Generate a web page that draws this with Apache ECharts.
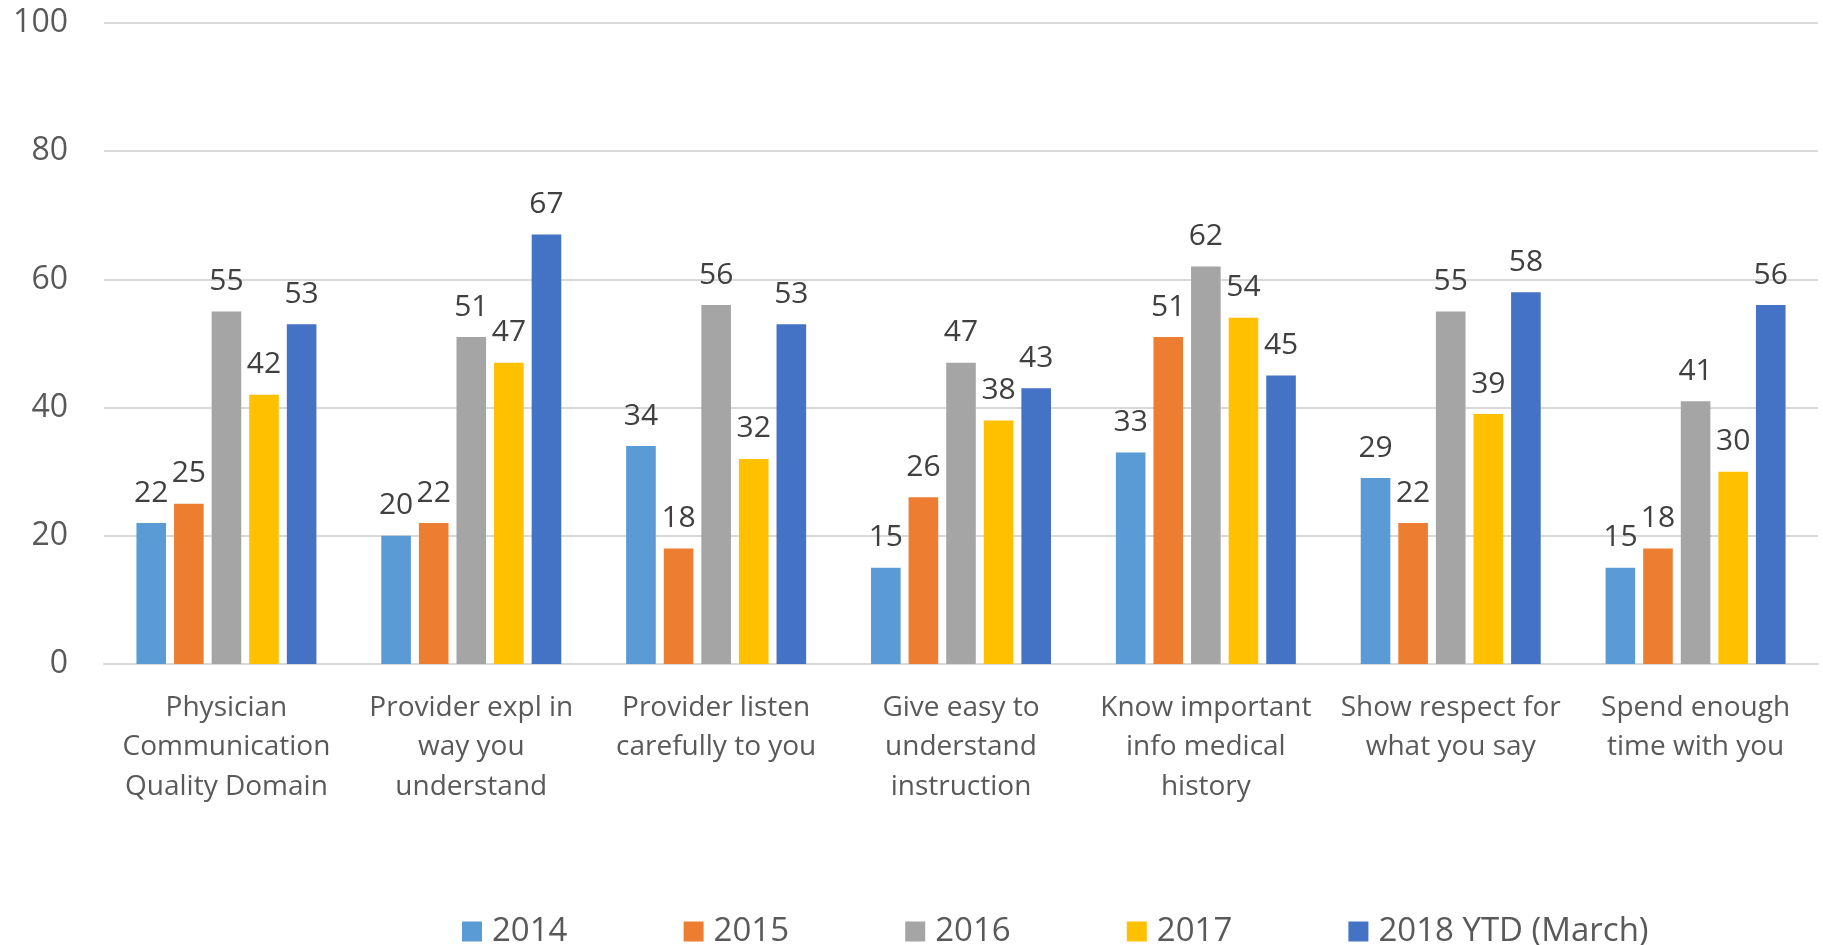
<!DOCTYPE html>
<html>
<head>
<meta charset="utf-8">
<script src="https://cdn.jsdelivr.net/npm/echarts@6/dist/echarts.min.js"></script>
<style>
html,body{margin:0;padding:0;background:#fff;}
#chart{width:1823px;height:945px;}
</style>
</head>
<body>
<div id="chart"></div>
<script>
const categories = [
  'Physician\nCommunication\nQuality Domain',
  'Provider expl in\nway you\nunderstand',
  'Provider listen\ncarefully to you',
  'Give easy to\nunderstand\ninstruction',
  'Know important\ninfo medical\nhistory',
  'Show respect for\nwhat you say',
  'Spend enough\ntime with you'
];
const seriesNames = ['2014', '2015', '2016', '2017', '2018 YTD (March)'];
const values2014 = [22, 20, 34, 15, 33, 29, 15];
const values2015 = [25, 22, 18, 26, 51, 22, 18];
const values2016 = [55, 51, 56, 47, 62, 55, 41];
const values2017 = [42, 47, 32, 38, 54, 39, 30];
const values2018 = [53, 67, 53, 43, 45, 58, 56];
const yTicks = [0, 20, 40, 60, 80, 100];

const allValues = [values2014, values2015, values2016, values2017, values2018];
const colors = ['#5B9BD5', '#ED7D31', '#A5A5A5', '#FFC000', '#4472C4'];
const FONT = '"Open Sans", Lato, sans-serif';

const chart = echarts.init(document.getElementById('chart'));

const series = seriesNames.map((name, i) => ({
  name: name,
  type: 'bar',
  data: allValues[i],
  itemStyle: { color: colors[i] },
  barGap: '27%',
  barCategoryGap: '26.5%',
  label: {
    show: true,
    position: 'top',
    distance: 15,
    color: '#404040',
    fontSize: 30,
    fontFamily: FONT
  }
}));

const legends = seriesNames.map((name, i) => ({
  data: [name],
  left: 457 + i * 221.6,
  top: 910,
  itemWidth: 20,
  itemHeight: 20,
  itemGap: 0,
  icon: 'rect',
  textStyle: { color: '#595959', fontSize: 33, fontFamily: FONT, padding: [0, 0, 0, 5] },
  selectedMode: false
}));

chart.setOption({
  backgroundColor: '#ffffff',
  animation: false,
  textStyle: { fontFamily: FONT },
  grid: { left: 104, right: 5, top: 23, bottom: 281, containLabel: false },
  legend: legends,
  xAxis: {
    type: 'category',
    data: categories,
    axisLine: { show: true, lineStyle: { color: '#D9D9D9', width: 2 } },
    axisTick: { show: false },
    axisLabel: {
      interval: 0,
      margin: 24,
      color: '#595959',
      fontSize: 28,
      lineHeight: 39.5,
      fontFamily: FONT,
      align: 'center'
    }
  },
  yAxis: {
    type: 'value',
    min: yTicks[0],
    max: yTicks[yTicks.length - 1],
    interval: yTicks[1] - yTicks[0],
    axisLine: { show: false },
    axisTick: { show: false },
    splitLine: { lineStyle: { color: '#D9D9D9', width: 2 } },
    axisLabel: {
      margin: 36,
      color: '#595959',
      fontSize: 32,
      fontFamily: FONT
    }
  },
  series: series
});
</script>
</body>
</html>
